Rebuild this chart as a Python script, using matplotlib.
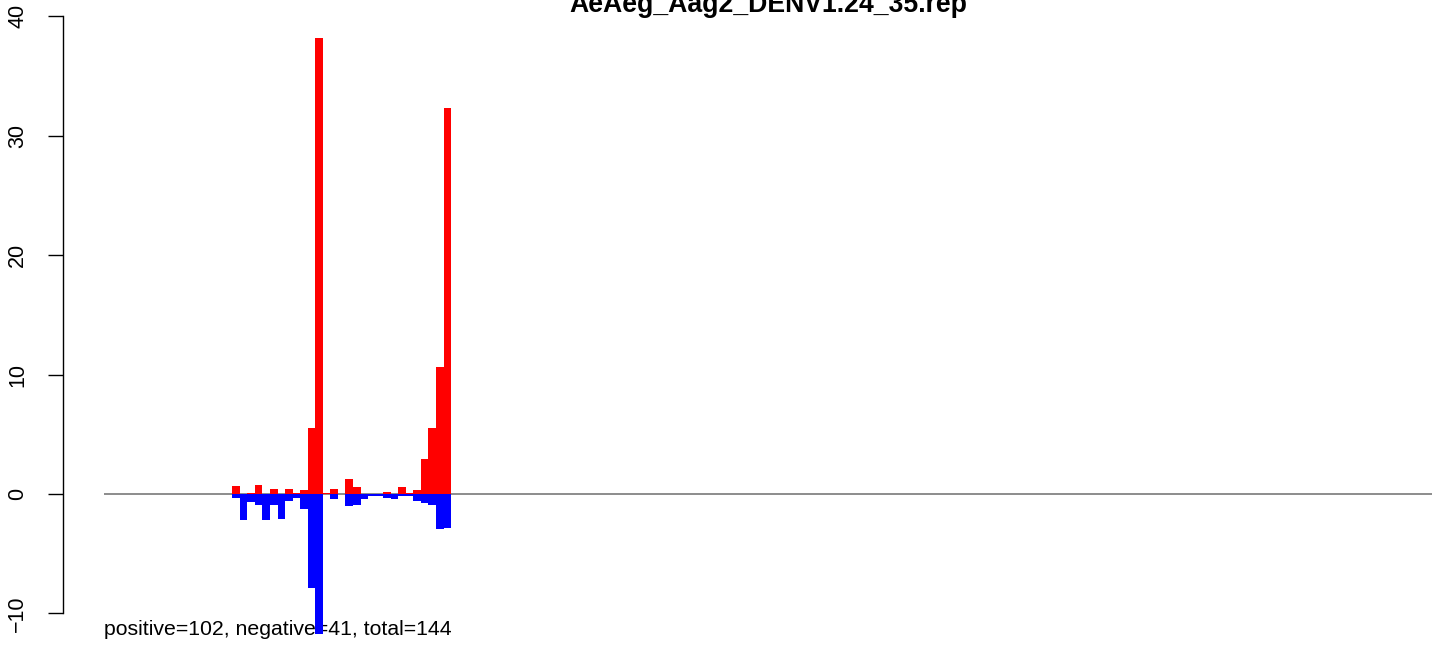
import numpy as np
import matplotlib
matplotlib.use("Agg")
import matplotlib.pyplot as plt

plt.rcParams['font.family'] = ['Liberation Sans', 'DejaVu Sans']

title = "AeAeg_Aag2_DENV1.24_35.rep"
summary = "positive=102, negative=41, total=144"

# x domain of the profile and positions of the non-empty bins
domain = (0, 176)
positions = np.arange(17, 46)

positive = [0.67, 0, 0.08, 0.75, 0, 0.42, 0, 0.42, 0.08, 0.34,
            5.53, 38.2, 0.08, 0.42, 0, 1.26, 0.59, 0, 0, 0,
            0.17, 0, 0.59, 0.08, 0.34, 2.93, 5.53, 10.67, 32.35]
negative = [-0.31, -2.18, -0.67, -0.89, -2.18, -0.89, -2.07, -0.56, -0.34, -1.23,
            -7.85, -11.73, 0, -0.39, 0, -1.0, -0.89, -0.39, -0.14, -0.14,
            -0.31, -0.39, -0.14, -0.14, -0.56, -0.73, -0.89, -2.93, -2.85]

yticks = [-10, 0, 10, 20, 30, 40]

W, H = 1444, 647
fig = plt.figure(figsize=(W / 100, H / 100), dpi=100)
ax = fig.add_axes([63 / W, 0, 1 - 63 / W, 1])

ax.bar(positions, positive, width=1, align='edge', color='#ff0000', linewidth=0, zorder=2)
ax.bar(positions, negative, width=1, align='edge', color='#0000ff', linewidth=0, zorder=2)
ax.hlines(0, domain[0], domain[1], color='#6e6e6e', linewidth=1.1, zorder=1)

ax.set_xlim(-41 / 7.545, (W - 104) / 7.545)
ax.set_ylim(-(H - 494) / 11.94, 494 / 11.94)

for s in ['top', 'right', 'bottom']:
    ax.spines[s].set_visible(False)
ax.spines['left'].set_bounds(yticks[0], yticks[-1])
ax.spines['left'].set_linewidth(1.0)
ax.set_xticks([])
ax.set_yticks(yticks)
ax.set_yticklabels(['\u221210' if t < 0 else str(t) for t in yticks],
                   rotation=90, va='center', fontsize=15.5)
ax.tick_params(axis='y', length=11, width=1.0, pad=14)

ax.text(104 / W, 12 / H, summary, transform=fig.transFigure, fontsize=15.3,
        ha='left', va='baseline', zorder=0.5)
fig.text(768 / W, 1 - 12 / H, title, fontsize=19.2, fontweight='bold',
         ha='center', va='baseline')

fig.savefig("out.png", dpi=100)
